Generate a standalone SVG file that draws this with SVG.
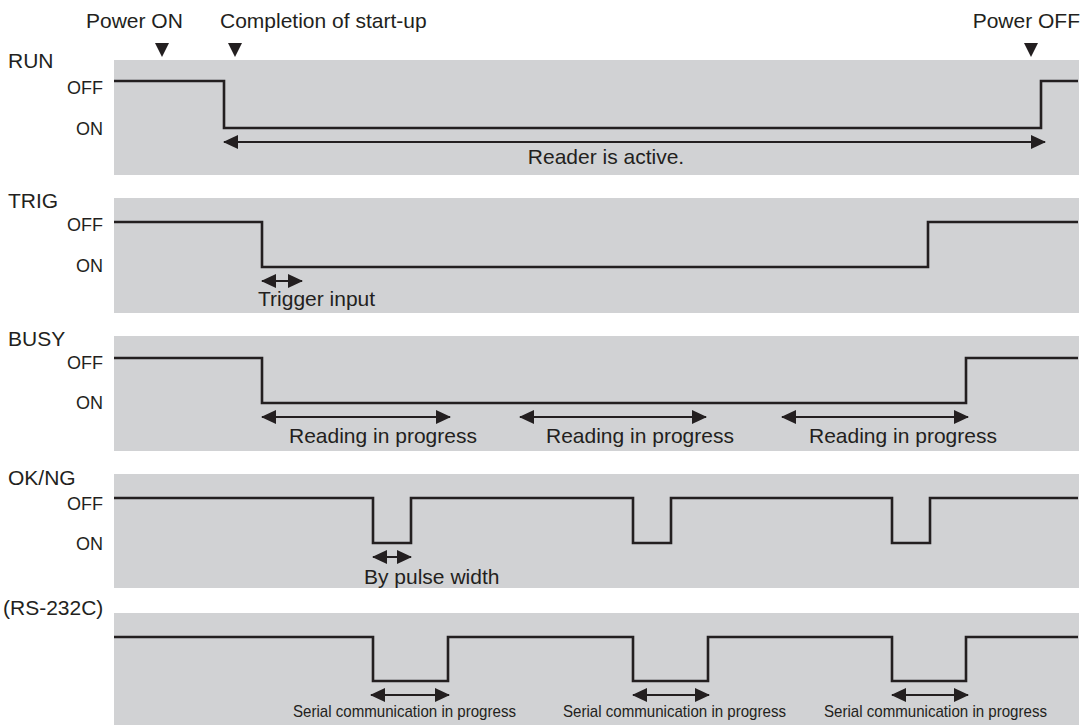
<svg xmlns="http://www.w3.org/2000/svg" width="1086" height="725" viewBox="0 0 1086 725">
<style>
text{font-family:"Liberation Sans",Arial,sans-serif;fill:#231f20}
.t{font-size:21px}
.lv{font-size:18px;text-anchor:end}
.sm{font-size:17px}
.band{fill:#d1d2d4}
.sig{fill:none;stroke:#231f20;stroke-width:2.6;stroke-linejoin:miter}
.arr{fill:none;stroke:#231f20;stroke-width:2.2;marker-start:url(#ah);marker-end:url(#ah)}
.mk{fill:#231f20}
</style>
<defs>
<marker id="ah" markerUnits="userSpaceOnUse" markerWidth="16" markerHeight="16" refX="14" refY="7" orient="auto-start-reverse">
<path d="M0,0 L15,7 L0,14 Z" fill="#231f20"/>
</marker>
</defs>
<rect width="1086" height="725" fill="#ffffff"/>

<g id="events">
<text class="t" x="86" y="28">Power ON</text>
<text class="t" x="220" y="28">Completion of start-up</text>
<text class="t" x="1080" y="28" text-anchor="end">Power OFF</text>
<polygon class="mk" points="155,43 169,43 162,57"/>
<polygon class="mk" points="228,43 242,43 235,57"/>
<polygon class="mk" points="1024,43 1038,43 1031,57"/>
</g>

<g id="run">
<rect class="band" x="114" y="60" width="965" height="115"/>
<text class="t" x="8" y="68">RUN</text>
<text class="lv" x="103" y="94">OFF</text>
<text class="lv" x="103" y="135">ON</text>
<path class="sig" d="M114,81 H224 V128 H1041 V81 H1078"/>
<text class="t" x="606" y="164" text-anchor="middle">Reader is active.</text>
</g>

<g id="trig">
<rect class="band" x="114" y="198" width="965" height="115"/>
<text class="t" x="8" y="208">TRIG</text>
<text class="lv" x="103" y="231">OFF</text>
<text class="lv" x="103" y="272">ON</text>
<path class="sig" d="M114,222 H262 V267 H928 V222 H1078"/>
<text class="t" x="258" y="306">Trigger input</text>
</g>

<g id="busy">
<rect class="band" x="114" y="336" width="965" height="115"/>
<text class="t" x="8" y="346">BUSY</text>
<text class="lv" x="103" y="369">OFF</text>
<text class="lv" x="103" y="409">ON</text>
<path class="sig" d="M114,358 H262 V403 H966 V358 H1078"/>
<text class="t" x="289" y="443">Reading in progress</text>
<text class="t" x="546" y="443">Reading in progress</text>
<text class="t" x="809" y="443">Reading in progress</text>
</g>

<g id="okng">
<rect class="band" x="114" y="474" width="965" height="114"/>
<text class="t" x="8" y="485">OK/NG</text>
<text class="lv" x="103" y="510">OFF</text>
<text class="lv" x="103" y="550">ON</text>
<path class="sig" d="M114,498 H373 V543 H411 V498 H633 V543 H671 V498 H892 V543 H930 V498 H1078"/>
<text class="t" x="364" y="584">By pulse width</text>
</g>

<g id="rs232c">
<rect class="band" x="114" y="613" width="965" height="112"/>
<text class="t" x="3" y="615">(RS-232C)</text>
<path class="sig" d="M114,637 H373 V681 H448 V637 H633 V681 H708 V637 H892 V681 H966 V637 H1078"/>
<text class="sm" x="293" y="717" textLength="223" lengthAdjust="spacingAndGlyphs">Serial communication in progress</text>
<text class="sm" x="563" y="717" textLength="223" lengthAdjust="spacingAndGlyphs">Serial communication in progress</text>
<text class="sm" x="824" y="717" textLength="223" lengthAdjust="spacingAndGlyphs">Serial communication in progress</text>
</g>

<g id="connectors">
<line class="arr" x1="224" y1="142" x2="1045" y2="142"/>
<line class="arr" x1="262" y1="281" x2="302" y2="281"/>
<line class="arr" x1="262" y1="417" x2="450" y2="417"/>
<line class="arr" x1="520" y1="417" x2="706" y2="417"/>
<line class="arr" x1="782" y1="417" x2="968" y2="417"/>
<line class="arr" x1="373" y1="557" x2="411" y2="557"/>
<line class="arr" x1="371" y1="695" x2="449" y2="695"/>
<line class="arr" x1="633" y1="695" x2="709" y2="695"/>
<line class="arr" x1="892" y1="695" x2="968" y2="695"/>
</g>
</svg>
